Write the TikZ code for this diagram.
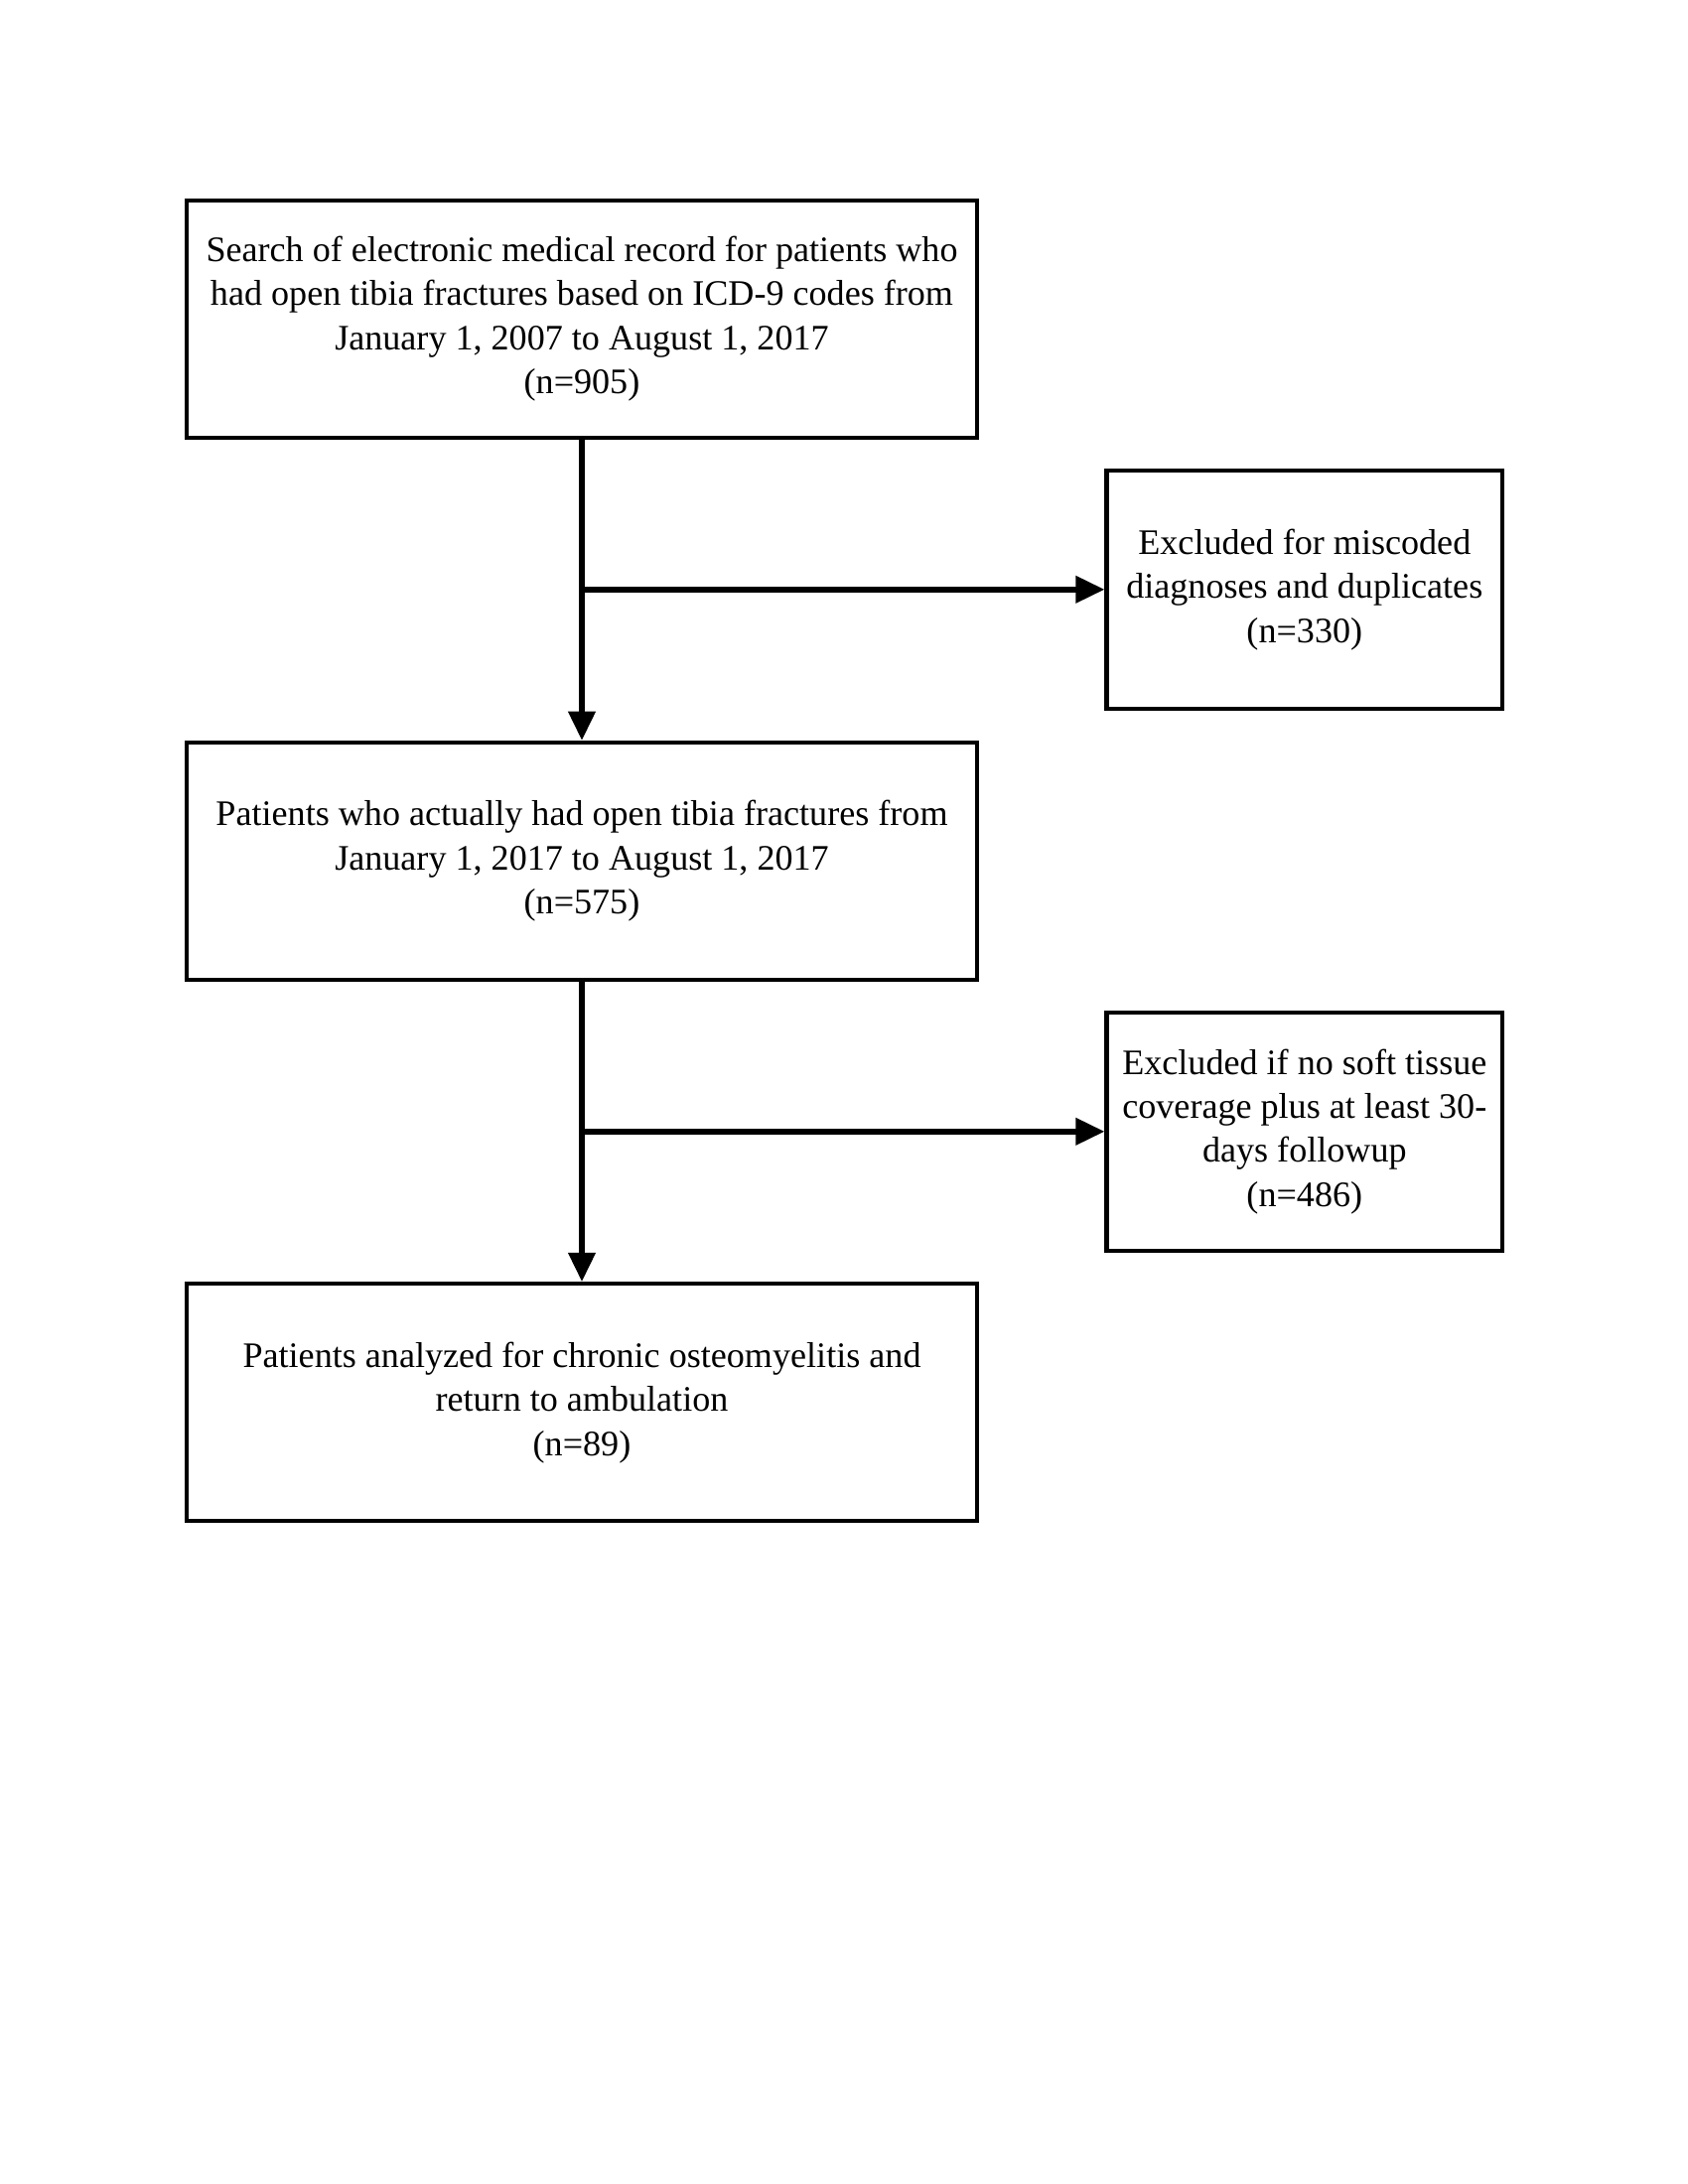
\documentclass[tikz,border=0pt]{standalone}
\usepackage{fontspec}
\setmainfont{Liberation Serif}
\usetikzlibrary{arrows.meta}
\begin{document}
\begin{tikzpicture}[x=0.36pt,y=-0.36pt,
  box/.style={draw,line width=1.55pt,align=center,inner sep=0pt,
    font=\fontsize{13}{16}\selectfont},
  bigbox/.style={box,minimum width=286.6pt,minimum height=86pt},
  smallbox/.style={box,minimum width=143.4pt,minimum height=86.3pt},
  conn/.style={line width=2.1pt,-{Triangle[length=10.5pt,width=9.5pt]}}]
\useasboundingbox (0,0) rectangle (1700,2200);
\node[bigbox] (b1) at (586,321.3) {Search of electronic medical record for patients who\\had open tibia fractures based on ICD-9 codes from\\January 1, 2007 to August 1, 2017\\(n=905)};
\node[smallbox] (b2) at (1313.8,593.8) {Excluded for miscoded\\diagnoses and duplicates\\(n=330)};
\node[bigbox] (b3) at (586,867.5) {Patients who actually had open tibia fractures from\\January 1, 2017 to August 1, 2017\\(n=575)};
\node[smallbox] (b4) at (1313.8,1139.8) {Excluded if no soft tissue\\coverage plus at least 30-\\days followup\\(n=486)};
\node[bigbox] (b5) at (586,1412.7) {Patients analyzed for chronic osteomyelitis and\\return to ambulation\\(n=89)};
\coordinate (j1) at (586,593.8);
\coordinate (j2) at (586,1139.8);
\draw[conn] (b1.south) -- (b3.north);
\draw[conn] (j1) -- (b2.west);
\draw[conn] (b3.south) -- (b5.north);
\draw[conn] (j2) -- (b4.west);
\end{tikzpicture}
\end{document}
